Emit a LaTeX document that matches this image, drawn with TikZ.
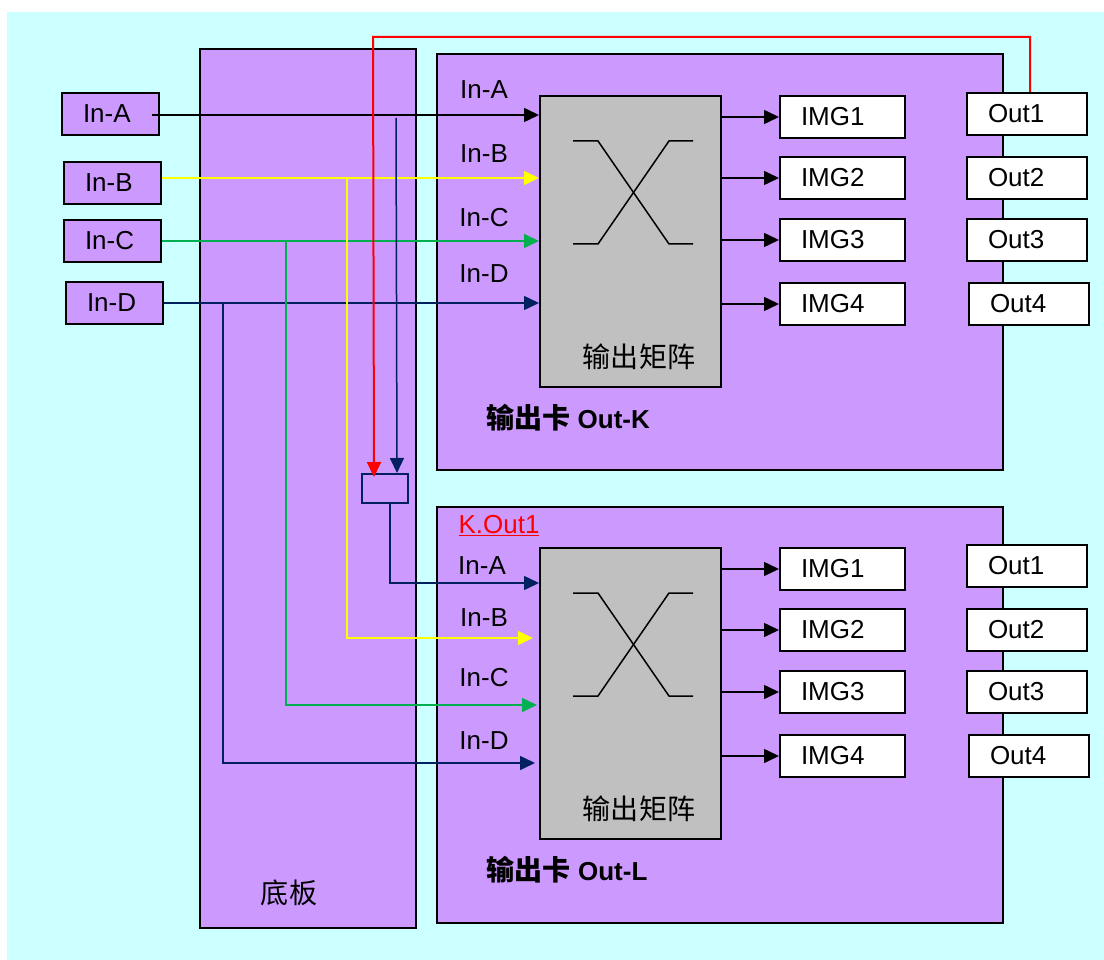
\documentclass[tikz,border=0pt]{standalone}
\usepackage{fontspec}
\setmainfont{Liberation Sans}
\newfontfamily\cjk[Scale=1.08]{Noto Sans CJK SC}
\usetikzlibrary{arrows.meta,calc}
\definecolor{bgc}{HTML}{CCFFFF}
\definecolor{pur}{HTML}{CC99FF}
\definecolor{mgray}{HTML}{C0C0C0}
\definecolor{navyc}{RGB}{0,32,96}
\definecolor{grn}{HTML}{00B050}
\definecolor{yel}{HTML}{FFFF00}
\begin{document}
\begin{tikzpicture}[x=1pt,y=-1pt,
  every node/.style={font=\fontsize{26}{30}\selectfont},
  board/.style={draw=black, line width=2pt, fill=pur, anchor=north west, inner sep=0pt},
  mtx/.style={draw=black, line width=2pt, fill=mgray, anchor=north west, inner sep=0pt, minimum width=181pt, minimum height=291pt},
  inbox/.style={draw=black, line width=2pt, fill=pur, anchor=north west, inner xsep=21pt, inner ysep=0pt, minimum height=42pt, text width=55pt, align=left},
  imgbox/.style={draw=black, line width=2pt, fill=white, anchor=north west, inner xsep=21pt, inner ysep=0pt, minimum height=42pt, text width=83pt, align=left},
  outbox/.style={draw=black, line width=2pt, fill=white, anchor=north west, inner xsep=21pt, inner ysep=0pt, minimum height=42pt, text width=78pt, align=left},
  conn/.style={line width=1.5pt, -{Triangle[length=15pt,width=14pt]}},
  plainline/.style={line width=1.5pt}
]
\useasboundingbox (0,0) rectangle (1104,960);
\fill[bgc] (7,12) rectangle (1104,960);

% boards
\node[board, minimum width=216pt, minimum height=879pt] (base) at (199,48) {};
\node[board, minimum width=566pt, minimum height=416pt] (cardK) at (436,53) {};
\node[board, minimum width=566pt, minimum height=416pt] (cardL) at (436,506) {};
\node (baseT) at (289,893) {\cjk 底板};

% matrices
\node[mtx] (matK) at (539,95) {};
\node[mtx] (matL) at (539,547) {};
\foreach \m in {matK,matL}{
  \begin{scope}[shift={(\m.north west)}]
    \draw[plainline] (34,46) -- (59,46) -- (130,149) -- (154,149);
    \draw[plainline] (34,149) -- (59,149) -- (130,46) -- (154,46);
  \end{scope}
}
\node (mtK) at ($(matK.north west)+(100,262)$) {\cjk 输出矩阵};
\node (mtL) at ($(matL.north west)+(100,262)$) {\cjk 输出矩阵};

% input boxes
\node[inbox] (inA) at (61,92) {In-A};
\node[inbox] (inB) at (63,161) {In-B};
\node[inbox] (inC) at (63,219) {In-C};
\node[inbox] (inD) at (65,281) {In-D};

% IMG and Out boxes
\node[imgbox] (imgK1) at (779,95) {IMG1};
\node[imgbox] (imgK2) at (779,156) {IMG2};
\node[imgbox] (imgK3) at (779,218) {IMG3};
\node[imgbox] (imgK4) at (779,282) {IMG4};
\node[imgbox] (imgL1) at (779,547) {IMG1};
\node[imgbox] (imgL2) at (779,608) {IMG2};
\node[imgbox] (imgL3) at (779,670) {IMG3};
\node[imgbox] (imgL4) at (779,734) {IMG4};
\node[outbox] (outK1) at (966,92) {Out1};
\node[outbox] (outK2) at (966,156) {Out2};
\node[outbox] (outK3) at (966,218) {Out3};
\node[outbox] (outK4) at (968,282) {Out4};
\node[outbox] (outL1) at (966,544) {Out1};
\node[outbox] (outL2) at (966,608) {Out2};
\node[outbox] (outL3) at (966,670) {Out3};
\node[outbox] (outL4) at (968,734) {Out4};

% switch box
\node[draw=navyc, line width=2pt, fill=pur, anchor=north west, minimum width=46pt, minimum height=29pt, inner sep=0pt] (sw) at (361,473) {};

% labels
\node (lKA) at (484,90) {In-A};
\node (lKB) at (484,154) {In-B};
\node (lKC) at (484,218) {In-C};
\node (lKD) at (484,274) {In-D};
\node[text=red] (kout) at (499,526) {\underline{K.Out1}};
\node (lLA) at (482,566) {In-A};
\node (lLB) at (484,618) {In-B};
\node (lLC) at (484,678) {In-C};
\node (lLD) at (484,741) {In-D};
\node (capK) at (568,418) {{\cjk\bfseries 输出卡} \textbf{Out-K}};
\node (capL) at (567,870) {{\cjk\bfseries 输出卡} \textbf{Out-L}};

% level coordinates
\coordinate (yKA) at (0,115);
\coordinate (yKB) at (0,178);
\coordinate (yKC) at (0,241);
\coordinate (yKD) at (0,303);
\coordinate (yLA) at (0,583);
\coordinate (yLB) at (0,638);
\coordinate (yLC) at (0,705);
\coordinate (yLD) at (0,763);
\coordinate (ybx) at (347,0);
\coordinate (gx) at (286,0);
\coordinate (nx) at (223,0);
\coordinate (rtop) at (373,37);
\coordinate (nvtop) at (396,118);
\coordinate (startA) at (152,115);

% input connectors to K
\draw[conn, black] (startA) -- (matK.west |- yKA);
\draw[conn, yel] (inB.east |- yKB) -- (matK.west |- yKB);
\draw[conn, grn] (inC.east |- yKC) -- (matK.west |- yKC);
\draw[conn, navyc] (inD.east |- yKD) -- (matK.west |- yKD);

% branches to L
\draw[conn, yel] (ybx |- yKB) |- ([xshift=-6pt]matL.west |- yLB);
\draw[conn, grn] (gx |- yKC) |- ([xshift=-2pt]matL.west |- yLC);
\draw[conn, navyc] (nx |- yKD) |- ([xshift=-4pt]matL.west |- yLD);

% red feedback and switch
\draw[conn, red, line width=2pt] ([xshift=3pt]outK1.north) |- (rtop) -- ([xshift=-11pt,yshift=-4pt]sw.north);
\draw[conn, navyc] (nvtop) -- ([xshift=12pt]sw.north);
\draw[conn, navyc] ([xshift=5pt]sw.south) |- (matL.west |- yLA);

% outputs
\foreach \c in {K,L}{
  \foreach \i in {1,2,3,4}{
    \draw[conn, black] (mat\c.east |- img\c\i.west) -- (img\c\i.west);
  }
}
\end{tikzpicture}
\end{document}
